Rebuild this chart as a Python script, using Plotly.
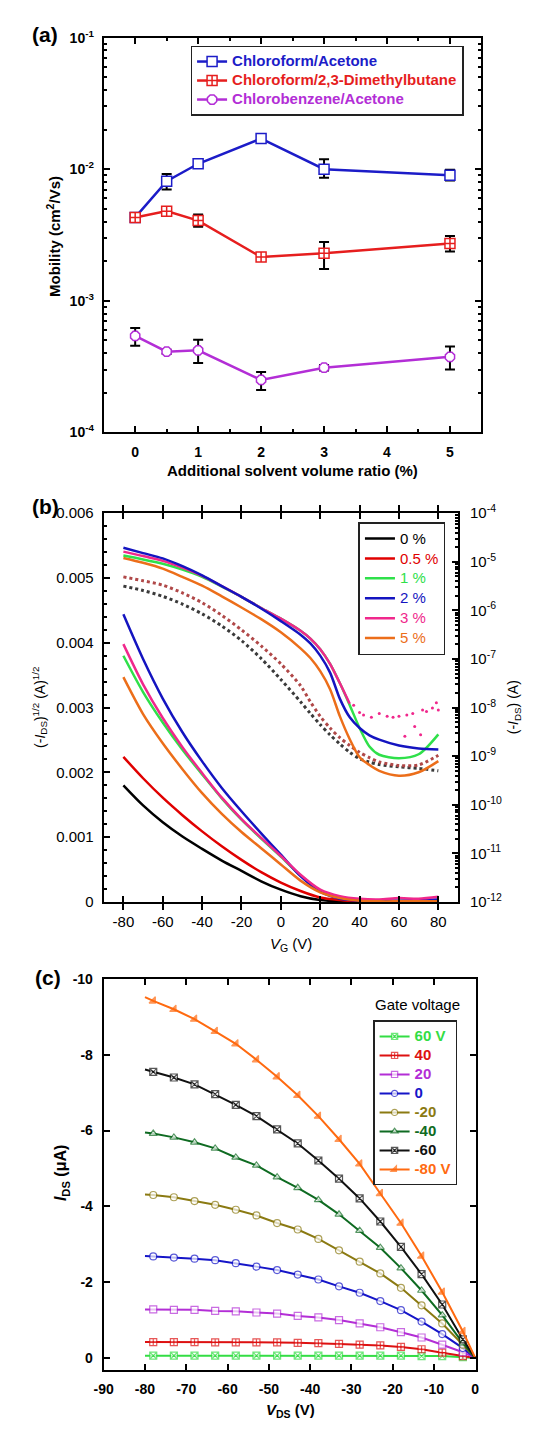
import plotly.graph_objects as go

W, H = 543, 1430
F = "Liberation Sans, Arial, sans-serif"

# ---------------- (a) mobility vs solvent ratio ----------------
ratio = [0, 0.5, 1, 2, 3, 5]
mob_ca = [4.3e-3, 8.1e-3, 1.1e-2, 1.71e-2, 1.0e-2, 9.0e-3]
mob_ca_up = [0.2e-3, 1.1e-3, 0.4e-3, 0.6e-3, 1.9e-3, 0.9e-3]
mob_ca_dn = [0.2e-3, 1.1e-3, 0.4e-3, 0.6e-3, 1.4e-3, 0.8e-3]
mob_cd = [4.3e-3, 4.8e-3, 4.07e-3, 2.15e-3, 2.3e-3, 2.73e-3]
mob_cd_up = [0.35e-3, 0.35e-3, 0.45e-3, 0.1e-3, 0.5e-3, 0.37e-3]
mob_cd_dn = [0.3e-3, 0.3e-3, 0.41e-3, 0.1e-3, 0.56e-3, 0.36e-3]
mob_cb = [5.4e-4, 4.1e-4, 4.2e-4, 2.5e-4, 3.1e-4, 3.75e-4]
mob_cb_up = [0.8e-4, 0.15e-4, 0.86e-4, 0.37e-4, 0.15e-4, 0.75e-4]
mob_cb_dn = [0.84e-4, 0.15e-4, 0.83e-4, 0.4e-4, 0.15e-4, 0.75e-4]

# ---------------- (b) transfer curves ----------------
vg_lin = [-80, -70, -60, -50, -40, -30, -20, -10, 0, 10, 20, 30, 40, 50, 60, 70, 80]
sq_0 = [1.80, 1.49, 1.23, 1.01, 0.82, 0.64, 0.48, 0.32, 0.19, 0.09, 0.03, 0.01, 0.005, 0.005, 0.005, 0.005, 0.005]
sq_05 = [2.24, 1.91, 1.61, 1.34, 1.09, 0.86, 0.65, 0.46, 0.30, 0.17, 0.07, 0.03, 0.01, 0.01, 0.01, 0.01, 0.01]
sq_1 = [3.80, 3.24, 2.77, 2.35, 1.97, 1.60, 1.27, 0.98, 0.70, 0.41, 0.18, 0.07, 0.03, 0.02, 0.02, 0.02, 0.03]
sq_2 = [4.44, 3.75, 3.14, 2.62, 2.17, 1.76, 1.40, 1.06, 0.73, 0.40, 0.16, 0.05, 0.02, 0.02, 0.02, 0.03, 0.04]
sq_3 = [3.98, 3.36, 2.84, 2.39, 1.99, 1.61, 1.28, 0.99, 0.71, 0.42, 0.19, 0.09, 0.05, 0.04, 0.06, 0.05, 0.08]
sq_5 = [3.47, 2.90, 2.45, 2.05, 1.68, 1.36, 1.08, 0.83, 0.58, 0.33, 0.15, 0.06, 0.02, 0.01, 0.01, 0.01, 0.01]

vg_log = [-80, -70, -60, -50, -40, -30, -20, -10, 0, 10, 15, 20, 25, 30, 35, 40, 45, 50, 60, 70, 80]
lg_0 = [-5.50, -5.59, -5.71, -5.87, -6.07, -6.32, -6.62, -6.99, -7.42, -7.88, -8.12, -8.35, -8.56, -8.75, -8.92, -9.05, -9.12, -9.17, -9.22, -9.25, -9.30]
lg_05 = [-5.31, -5.39, -5.48, -5.64, -5.84, -6.10, -6.40, -6.73, -7.10, -7.55, -7.88, -8.18, -8.42, -8.62, -8.78, -8.92, -9.03, -9.12, -9.19, -9.18, -8.98]
lg_1 = [-4.87, -4.95, -5.04, -5.16, -5.31, -5.51, -5.72, -5.95, -6.17, -6.42, -6.58, -6.80, -7.10, -7.50, -7.95, -8.42, -8.80, -8.97, -9.04, -8.96, -8.55]
lg_2 = [-4.71, -4.82, -4.93, -5.09, -5.28, -5.50, -5.72, -5.96, -6.22, -6.50, -6.68, -6.93, -7.28, -7.82, -8.20, -8.42, -8.57, -8.66, -8.78, -8.84, -8.86]
lg_5 = [-4.92, -5.02, -5.14, -5.31, -5.49, -5.71, -5.94, -6.18, -6.45, -6.78, -6.98, -7.25, -7.62, -8.18, -8.65, -9.02, -9.18, -9.30, -9.40, -9.33, -9.10]
vg_log_3 = [-80, -70, -60, -50, -40, -30, -20, -10, 0, 10, 15, 20, 25, 30, 35]
lg_3 = [-4.79, -4.88, -4.98, -5.12, -5.29, -5.50, -5.72, -5.95, -6.17, -6.42, -6.58, -6.80, -7.10, -7.50, -7.92]
vg_noise_3 = [37, 40, 42, 46, 50, 54, 57, 60, 63, 64, 67, 68, 71, 72, 74, 77, 79, 80]
lg_noise_3 = [-7.95, -8.10, -8.15, -8.20, -8.12, -8.18, -8.20, -8.18, -8.59, -8.15, -8.12, -8.39, -8.56, -8.05, -8.08, -8.01, -7.90, -8.05]

# ---------------- (c) output curves ----------------
vds = [-80, -78, -73, -68, -63, -58, -53, -48, -43, -38, -33, -28, -23, -18, -13, -8, -3, 0]
ids_p60 = [0.06, 0.06, 0.06, 0.06, 0.06, 0.06, 0.06, 0.06, 0.06, 0.06, 0.06, 0.06, 0.06, 0.06, 0.05, 0.05, 0.02, 0]
ids_p40 = [0.42, 0.42, 0.42, 0.42, 0.41, 0.41, 0.41, 0.41, 0.40, 0.39, 0.37, 0.35, 0.33, 0.29, 0.23, 0.14, 0.05, 0]
ids_p20 = [1.28, 1.28, 1.27, 1.27, 1.24, 1.23, 1.20, 1.17, 1.11, 1.07, 1.00, 0.91, 0.81, 0.68, 0.54, 0.35, 0.15, 0]
ids_0 = [2.69, 2.68, 2.65, 2.62, 2.58, 2.50, 2.41, 2.32, 2.20, 2.07, 1.89, 1.72, 1.50, 1.26, 0.96, 0.63, 0.26, 0]
ids_m20 = [4.31, 4.30, 4.24, 4.14, 4.04, 3.91, 3.76, 3.56, 3.39, 3.14, 2.84, 2.54, 2.23, 1.85, 1.39, 0.91, 0.35, 0]
ids_m40 = [5.95, 5.92, 5.82, 5.69, 5.53, 5.29, 5.08, 4.77, 4.49, 4.17, 3.79, 3.36, 2.91, 2.37, 1.78, 1.13, 0.39, 0]
ids_m60 = [7.61, 7.55, 7.40, 7.22, 6.96, 6.68, 6.38, 6.03, 5.66, 5.21, 4.73, 4.21, 3.60, 2.93, 2.21, 1.41, 0.49, 0]
ids_m80 = [9.52, 9.42, 9.20, 8.94, 8.62, 8.29, 7.87, 7.42, 6.93, 6.38, 5.77, 5.12, 4.34, 3.56, 2.69, 1.74, 0.70, 0]

fig = go.Figure()


def lab(text, col, size, bold=False):
    w = "bold" if bold else "normal"
    return f"<span style='color:{col};font-size:{size}px;font-weight:{w}'>{text}</span>"


# ---- (a) traces
a_series = [
    ("Chloroform/Acetone", mob_ca, mob_ca_up, mob_ca_dn, "#1c1cc8", "square"),
    ("Chloroform/2,3-Dimethylbutane", mob_cd, mob_cd_up, mob_cd_dn, "#e61e1e", "square-cross"),
    ("Chlorobenzene/Acetone", mob_cb, mob_cb_up, mob_cb_dn, "#b32ed6", "octagon"),
]
for name, y, up, dn, col, sym in a_series:
    fig.add_trace(go.Scatter(
        x=ratio, y=y, mode="lines+markers", xaxis="x", yaxis="y", legend="legend",
        name=lab(name, col, 15, True),
        line=dict(color=col, width=2.5),
        marker=dict(symbol=sym, size=10, color="white", line=dict(color=col, width=1.5)),
        error_y=dict(type="data", symmetric=False, array=up, arrayminus=dn,
                     color="black", thickness=2, width=5),
    ))

# ---- (b) traces: log curves (right axis)
def pw(v):
    return [10 ** e for e in v]

log_series = [
    (lg_0, vg_log, "#3a3a3a", 3, "dot"),
    (lg_05, vg_log, "#b04848", 3, "dot"),
    (lg_5, vg_log, "#ec6e1a", 2.5, "solid"),
    (lg_1, vg_log, "#2fe04a", 2.5, "solid"),
    (lg_3, vg_log_3, "#f0288c", 2.5, "solid"),
    (lg_2, vg_log, "#1414c0", 2.5, "solid"),
]
for y, x, col, w, d in log_series:
    fig.add_trace(go.Scatter(x=x, y=pw(y), mode="lines", xaxis="x2", yaxis="y3",
                             line=dict(color=col, width=w, dash=d, shape="spline", smoothing=0.8),
                             showlegend=False))
fig.add_trace(go.Scatter(x=vg_noise_3, y=pw(lg_noise_3), mode="markers", xaxis="x2", yaxis="y3",
                         marker=dict(color="#f0288c", size=3), showlegend=False))

# ---- (b) traces: sqrt curves (left axis)
lin_series = [
    ("0 %", sq_0, "#000000"),
    ("0.5 %", sq_05, "#e00000"),
    ("1 %", sq_1, "#2fe04a"),
    ("2 %", sq_2, "#1414c0"),
    ("3 %", sq_3, "#f0288c"),
    ("5 %", sq_5, "#ec6e1a"),
]
for name, y, col in lin_series:
    fig.add_trace(go.Scatter(x=vg_lin, y=[v * 1e-3 for v in y], mode="lines", xaxis="x2", yaxis="y2",
                             legend="legend2", name=lab(name, col, 15),
                             line=dict(color=col, width=2.5, shape="spline", smoothing=0.8)))

# ---- (c) traces
c_series = [
    ("60 V", ids_p60, "#33dd44", "square-x"),
    ("40", ids_p40, "#dd1111", "square-cross"),
    ("20", ids_p20, "#b32ed6", "square"),
    ("0", ids_0, "#1515c8", "circle"),
    ("-20", ids_m20, "#8b7a12", "circle"),
    ("-40", ids_m40, "#0f6b22", "triangle-up"),
    ("-60", ids_m60, "#111111", "square-x"),
    ("-80 V", ids_m80, "#ff6a10", "triangle-se"),
]
for name, y, col, sym in c_series:
    sizes = [0] + [7] * (len(vds) - 2) + [0]
    fill = col if sym == "triangle-se" else "white"
    fig.add_trace(go.Scatter(
        x=vds, y=[-v for v in y], mode="lines+markers", xaxis="x3", yaxis="y4", legend="legend3",
        name=lab(name, col, 15, True),
        line=dict(color=col, width=2),
        marker=dict(symbol=sym, size=sizes, color=fill, line=dict(color=col, width=1.2)),
    ))

# ---------------- axes ----------------
def px_x(p):
    return p / W

def px_y(p):
    return 1 - p / H

base = dict(showline=True, linecolor="black", linewidth=2, ticks="inside", tickcolor="black",
            tickwidth=2, ticklen=6, showgrid=False, zeroline=False)
minor_base = dict(ticks="inside", ticklen=3.5, tickwidth=1.5, tickcolor="black", showgrid=False)

bold14 = dict(family=F, size=14, color="black", weight="bold")
reg15 = dict(family=F, size=15, color="black")

def sup(e):
    return f"10<sup>{e}</sup>"

minor_a = [k * 10 ** e for e in range(-4, -1) for k in range(2, 10)]
minor_b = [k * 10 ** e for e in range(-12, -4) for k in range(2, 10)]

fig.update_layout(
    width=W, height=H, margin=dict(l=0, r=0, t=0, b=0),
    plot_bgcolor="white", paper_bgcolor="white", font=dict(family=F),
    xaxis=dict(base, domain=[px_x(96), px_x(483)], range=[-0.5, 5.5], anchor="y", mirror="allticks",
               tickmode="array", tickvals=[0, 1, 2, 3, 4, 5], tickfont=bold14, ticklabelstandoff=6,
               minor=dict(minor_base, tickmode="array", tickvals=[0.5, 1.5, 2.5, 3.5, 4.5])),
    yaxis=dict(base, domain=[px_y(427), px_y(27)], type="log", range=[-4, -1], anchor="x", mirror="allticks",
               tickmode="array", tickvals=[1e-4, 1e-3, 1e-2, 1e-1],
               ticktext=[sup(-4), sup(-3), sup(-2), sup(-1)], tickfont=bold14, ticklabelstandoff=5,
               minor=dict(minor_base, tickmode="array", tickvals=minor_a)),
    xaxis2=dict(base, domain=[px_x(96), px_x(459)], range=[-90, 90], anchor="y2", mirror="allticks",
                tickmode="array", tickvals=[-80, -60, -40, -20, 0, 20, 40, 60, 80],
                ticktext=["-80", "-60", "-40", "-20", "0", "20", "40", "60", "80"],
                tickfont=reg15, ticklabelstandoff=5),
    yaxis2=dict(base, domain=[px_y(903), px_y(509)], range=[0, 0.006], anchor="x2",
                tickmode="array", tickvals=[0, 0.001, 0.002, 0.003, 0.004, 0.005, 0.006],
                ticktext=["0", "0.001", "0.002", "0.003", "0.004", "0.005", "0.006"],
                tickfont=reg15, ticklabelstandoff=5,
                minor=dict(minor_base, dtick=0.0002, tick0=0)),
    yaxis3=dict(base, overlaying="y2", side="right", anchor="x2", type="log", range=[-12, -4],
                tickmode="array", tickvals=[10 ** e for e in range(-12, -3)],
                ticktext=[sup(e) for e in range(-12, -3)], tickfont=reg15, ticklabelstandoff=7,
                minor=dict(minor_base, tickmode="array", tickvals=minor_b)),
    xaxis3=dict(base, domain=[px_x(96), px_x(477.5)], range=[-90, 0.2], anchor="y4", mirror="allticks",
                tickmode="array", tickvals=[-90, -80, -70, -60, -50, -40, -30, -20, -10, 0],
                ticktext=["-90", "-80", "-70", "-60", "-50", "-40", "-30", "-20", "-10", "0"],
                tickfont=bold14, ticklabelstandoff=5),
    yaxis4=dict(base, domain=[px_y(1377), px_y(981)], range=[0.31, -10], anchor="x3", mirror="allticks",
                tickmode="array", tickvals=[0, -2, -4, -6, -8, -10],
                ticktext=["0", "-2", "-4", "-6", "-8", "-10"], tickfont=bold14, ticklabelstandoff=6),
    legend=dict(x=px_x(185), y=px_y(35), xanchor="left", yanchor="top", bgcolor="white",
                bordercolor="#222", borderwidth=1.5, font=dict(family=F, size=11),
                tracegroupgap=0, itemwidth=30),
    legend2=dict(x=px_x(357), y=px_y(518), xanchor="left", yanchor="top", bgcolor="white",
                 bordercolor="#222", borderwidth=1.5, font=dict(family=F, size=13),
                 tracegroupgap=0, itemwidth=30),
    legend3=dict(x=px_x(372), y=px_y(1023), xanchor="left", yanchor="top", bgcolor="white",
                 bordercolor="#222", borderwidth=1.5, font=dict(family=F, size=11),
                 tracegroupgap=0, itemwidth=30),
)

def ann(text, x, y, size=13, bold=False, angle=0, xanchor="center"):
    fig.add_annotation(text=text, x=px_x(x), y=px_y(y), xref="paper", yref="paper",
                       showarrow=False, textangle=angle, xanchor=xanchor, yanchor="middle",
                       font=dict(family=F, size=size, color="black", weight="bold" if bold else "normal"))

ann("(a)", 36, 24, size=21, bold=True)
ann("(b)", 36, 502, size=21, bold=True)
ann("(c)", 39, 980, size=21, bold=True)
ann("Mobility (cm<sup>2</sup>/Vs)", 45, 228, size=15, bold=True, angle=-90)
ann("Additional solvent volume ratio (%)", 289, 466, size=15, bold=True)
ann("(-<i>I</i><sub>DS</sub>)<sup>1/2</sup> (A)<sup>1/2</sup>", 30, 706, size=14, angle=-90)
ann("(-<i>I</i><sub>DS</sub>) (A)", 516, 706, size=14, angle=-90)
ann("<i>V</i><sub>G</sub> (V)", 288, 946, size=15)
ann("<i>I</i><sub>DS</sub> (μA)", 53, 1178, size=16, bold=True, angle=-90)
ann("<i>V</i><sub>DS</sub> (V)", 287, 1418, size=15, bold=True)
ann("Gate voltage", 417, 1007, size=15)

post = ("var s=document.createElement('style');"
        "s.innerHTML='html,body{margin:0 !important;padding:0 !important;}';"
        "document.head.appendChild(s);document.body.style.margin='0px';")
fig.write_html("out.html", config={"displayModeBar": False}, post_script=post)
